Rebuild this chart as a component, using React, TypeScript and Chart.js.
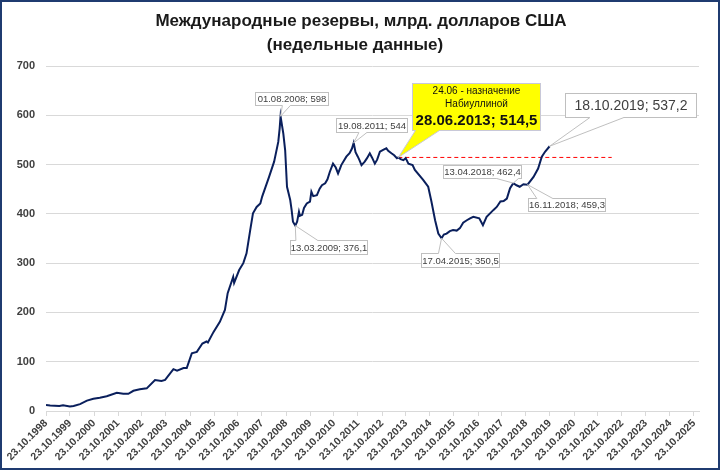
import React, { useEffect, useRef } from 'react';
import { Chart, registerables } from 'chart.js';

Chart.register(...registerables);

const titleLines = ['Международные резервы, млрд. долларов США', '(недельные данные)'];

const xTickLabels = [
  '23.10.1998', '23.10.1999', '23.10.2000', '23.10.2001', '23.10.2002', '23.10.2003', '23.10.2004',
  '23.10.2005', '23.10.2006', '23.10.2007', '23.10.2008', '23.10.2009', '23.10.2010', '23.10.2011',
  '23.10.2012', '23.10.2013', '23.10.2014', '23.10.2015', '23.10.2016', '23.10.2017', '23.10.2018',
  '23.10.2019', '23.10.2020', '23.10.2021', '23.10.2022', '23.10.2023', '23.10.2024', '23.10.2025',
];

const dates = [
  '1998-10-23', '1998-12-25', '1999-05-14', '1999-07-09', '1999-10-22', '1999-12-17', '2000-03-24',
  '2000-07-07', '2000-10-13', '2001-01-19', '2001-05-04', '2001-10-05', '2002-01-11', '2002-03-29',
  '2002-06-14', '2002-09-20', '2003-01-03', '2003-05-09', '2003-08-15', '2003-10-10', '2004-02-13',
  '2004-04-09', '2004-07-16', '2004-09-03', '2004-11-19', '2005-02-04', '2005-04-29', '2005-07-01',
  '2005-07-22', '2005-10-14', '2006-01-20', '2006-04-07', '2006-05-19', '2006-08-11', '2006-08-25',
  '2006-11-10', '2007-01-12', '2007-03-02', '2007-04-27', '2007-06-08', '2007-08-03', '2007-09-28',
  '2007-10-26', '2008-02-08', '2008-04-25', '2008-06-27', '2008-07-18', '2008-08-01', '2008-09-12',
  '2008-10-10', '2008-11-07', '2008-12-26', '2009-01-16', '2009-02-06', '2009-03-13', '2009-04-10',
  '2009-05-08', '2009-05-22', '2009-06-26', '2009-07-24', '2009-09-04', '2009-10-23', '2009-11-13',
  '2009-12-11', '2010-02-05', '2010-03-19', '2010-04-23', '2010-06-11', '2010-07-16', '2010-08-20',
  '2010-10-08', '2010-11-19', '2010-12-24', '2011-01-28', '2011-02-11', '2011-04-29', '2011-06-17',
  '2011-07-22', '2011-08-19', '2011-09-16', '2011-10-21', '2011-11-18', '2011-12-16', '2012-02-03',
  '2012-03-09', '2012-04-20', '2012-05-25', '2012-07-06', '2012-08-10', '2012-09-21', '2012-11-09',
  '2012-12-28', '2013-01-25', '2013-03-15', '2013-04-26', '2013-06-07', '2013-06-28', '2013-08-02',
  '2013-09-13', '2013-10-18', '2013-11-29', '2014-01-31', '2014-03-07', '2014-07-11', '2014-09-26',
  '2014-11-14', '2015-01-09', '2015-02-27', '2015-04-17', '2015-05-22', '2015-07-03', '2015-08-21',
  '2015-10-09', '2015-12-04', '2016-01-22', '2016-03-11', '2016-05-06', '2016-06-24', '2016-08-12',
  '2016-11-11', '2017-01-06', '2017-03-03', '2017-06-16', '2017-08-04', '2017-09-29', '2017-11-17',
  '2018-01-05', '2018-02-23', '2018-04-13', '2018-06-01', '2018-07-20', '2018-09-14', '2018-11-16',
  '2019-02-15', '2019-04-26', '2019-06-21', '2019-08-09', '2019-10-18',
];

const values = [
  12, 11, 10, 11.5, 9, 10, 14,
  21, 25, 27, 30, 37, 35, 35,
  41, 44, 46, 63, 61, 63, 85,
  82, 87, 87, 117, 120, 137, 141,
  139, 160, 181, 205, 239, 272, 260,
  286, 300, 320, 367, 401, 414, 421,
  435, 475, 506, 546, 573, 598, 563,
  529, 455, 428, 408, 384, 376.1, 384,
  404, 396, 398, 412, 421, 425, 445,
  436, 438, 451, 458, 462, 470, 485,
  502, 494, 482, 494, 499, 516, 523,
  532, 544, 525, 516, 508, 499, 506,
  513, 523, 514, 502, 510, 526, 530,
  533, 528, 523, 519, 513, 514.5, 511,
  509, 513, 502, 499, 489, 469, 455,
  425, 387, 360, 350.5, 358, 360, 365,
  367, 366, 371, 382, 387, 391, 394,
  391, 377, 394, 408, 414, 425, 426,
  431, 452, 462.4, 458, 455, 460, 459.3,
  475, 492, 516, 526, 537.2,
];

const refLineDates = ['2013-06-28', '2022-05-20'];
const refLineValues = [514.5, 514.5];

const calloutDates = ['2008-08-01', '2011-08-19', '2009-03-13', '2015-04-17', '2018-04-13', '2018-11-16', '2019-10-18', '2013-06-28'];
const calloutValues = [598, 544, 376.1, 350.5, 462.4, 459.3, 537.2, 514.5];
const calloutTexts = [
  ['01.08.2008; 598'],
  ['19.08.2011; 544'],
  ['13.03.2009; 376,1'],
  ['17.04.2015; 350,5'],
  ['13.04.2018; 462,4'],
  ['16.11.2018; 459,3'],
  ['18.10.2019; 537,2'],
  ['24.06 - назначение', 'Набиуллиной', '28.06.2013; 514,5'],
];

const FONT = '"Liberation Sans", Arial, sans-serif';
const TEXT_COLOR = '#404040';

type Layout = {
  dx: number; dy: number; w: number; h: number; edge: 'top' | 'bottom'; b1: number; b2: number;
  fill: string; stroke: string; fonts: string[]; lineDy: number[];
};

const calloutLayout: Layout[] = [
  { dx: 11.8, dy: -17.2, w: 74, h: 14, edge: 'bottom', b1: -10, b2: -2, fill: '#fff', stroke: '#bfbfbf', fonts: [`9.5px ${FONT}`], lineDy: [0] },
  { dx: 18.2, dy: -17.3, w: 72, h: 15, edge: 'bottom', b1: -13, b2: -5, fill: '#fff', stroke: '#bfbfbf', fonts: [`9.5px ${FONT}`], lineDy: [0] },
  { dx: 33.6, dy: 21.4, w: 78, h: 15, edge: 'top', b1: -33, b2: -11, fill: '#fff', stroke: '#bfbfbf', fonts: [`9.5px ${FONT}`], lineDy: [0] },
  { dx: 18.9, dy: 22.3, w: 79, h: 15, edge: 'top', b1: -22, b2: -5, fill: '#fff', stroke: '#bfbfbf', fonts: [`9.5px ${FONT}`], lineDy: [0] },
  { dx: -30.8, dy: -11.5, w: 79, h: 14, edge: 'bottom', b1: 14, b2: 36, fill: '#fff', stroke: '#bfbfbf', fonts: [`9.5px ${FONT}`], lineDy: [0] },
  { dx: 39.3, dy: 20.4, w: 78, h: 14, edge: 'top', b1: -30, b2: -14, fill: '#fff', stroke: '#bfbfbf', fonts: [`9.5px ${FONT}`], lineDy: [0] },
  { dx: 81.3, dy: -40.7, w: 132, h: 25, edge: 'bottom', b1: -41, b2: -7, fill: '#fff', stroke: '#bfbfbf', fonts: [`14px ${FONT}`], lineDy: [0] },
  { dx: 78.1, dy: -50.3, w: 129, h: 48, edge: 'bottom', b1: -61, b2: -37, fill: '#ffff00', stroke: '#c8c8d8', fonts: [`10px ${FONT}`, `10px ${FONT}`, `bold 15px ${FONT}`], lineDy: [-16.3, -3.7, 13] },
];

const BASE = Date.UTC(1998, 9, 23);
const DAY = 86400000;
function isoToT(d: string): number {
  const [Y, M, D] = d.split('-').map(Number);
  return (Date.UTC(Y, M - 1, D) - BASE) / (365.25 * DAY);
}
function ruToT(d: string): number {
  const [D, M, Y] = d.split('.').map(Number);
  return (Date.UTC(Y, M - 1, D) - BASE) / (365.25 * DAY);
}

const overlayPlugin = {
  id: 'overlay',
  afterDatasetsDraw(chart: any) {
    const ctx: CanvasRenderingContext2D = chart.ctx;
    const xs = chart.scales.x;
    const ys = chart.scales.y;
    calloutDates.forEach((d, i) => {
      const L = calloutLayout[i];
      const px = xs.getPixelForValue(isoToT(d));
      const py = ys.getPixelForValue(calloutValues[i]);
      const cx = px + L.dx;
      const cy = py + L.dy;
      const left = Math.round(cx - L.w / 2);
      const top = Math.round(cy - L.h / 2);
      ctx.save();
      ctx.fillStyle = L.fill;
      ctx.strokeStyle = L.stroke;
      ctx.lineWidth = 1;
      ctx.fillRect(left, top, L.w, L.h);
      ctx.strokeRect(left + 0.5, top + 0.5, L.w - 1, L.h - 1);
      const edgeY = L.edge === 'bottom' ? top + L.h - 0.5 : top + 0.5;
      const inner = L.edge === 'bottom' ? -1.5 : 1.5;
      const b1 = cx + L.b1;
      const b2 = cx + L.b2;
      ctx.beginPath();
      ctx.moveTo(b1, edgeY + inner);
      ctx.lineTo(b1, edgeY);
      ctx.lineTo(px, py);
      ctx.lineTo(b2, edgeY);
      ctx.lineTo(b2, edgeY + inner);
      ctx.closePath();
      ctx.fill();
      ctx.beginPath();
      ctx.moveTo(b1, edgeY);
      ctx.lineTo(px, py);
      ctx.lineTo(b2, edgeY);
      ctx.stroke();
      ctx.fillStyle = L.fill === '#ffff00' ? '#111' : TEXT_COLOR;
      ctx.textAlign = 'center';
      ctx.textBaseline = 'middle';
      calloutTexts[i].forEach((t, k) => {
        ctx.font = L.fonts[k];
        ctx.fillText(t, left + L.w / 2, top + L.h / 2 + L.lineDy[k] + 0.5);
      });
      ctx.restore();
    });
  },
  afterDraw(chart: any) {
    const ctx: CanvasRenderingContext2D = chart.ctx;
    ctx.save();
    ctx.fillStyle = '#1a1a1a';
    ctx.textAlign = 'center';
    ctx.textBaseline = 'middle';
    ctx.font = `bold 17px ${FONT}`;
    ctx.fillText(titleLines[0], 361, 21);
    ctx.fillText(titleLines[1], 355, 45);
    ctx.restore();
  },
};

export default function App() {
  const ref = useRef<HTMLCanvasElement | null>(null);
  useEffect(() => {
    document.body.style.margin = '0';
    const canvas = ref.current;
    if (!canvas) return;
    const tickValues = xTickLabels.map(ruToT);
    const chart = new Chart(canvas, {
      type: 'line',
      data: {
        datasets: [
          {
            data: dates.map((d, i) => ({ x: isoToT(d), y: values[i] })),
            borderColor: '#0a1f5c',
            borderWidth: 2,
            pointRadius: 0,
            tension: 0,
            fill: false,
          },
          {
            data: refLineDates.map((d, i) => ({ x: isoToT(d), y: refLineValues[i] })),
            borderColor: '#ff0000',
            borderWidth: 1,
            borderDash: [4, 3],
            pointRadius: 0,
            fill: false,
          },
        ],
      },
      options: {
        animation: false,
        responsive: false,
        devicePixelRatio: 1,
        layout: { padding: { top: 66, right: 21, left: 0, bottom: 0 } },
        plugins: { legend: { display: false }, tooltip: { enabled: false }, title: { display: false } },
        scales: {
          x: {
            type: 'linear',
            min: 0,
            max: 27.21,
            afterBuildTicks: (scale: any) => {
              scale.ticks = tickValues.map((v) => ({ value: v }));
            },
            afterFit: (scale: any) => {
              scale.height = 59;
            },
            ticks: {
              autoSkip: false,
              maxRotation: 45,
              minRotation: 45,
              padding: 1,
              color: TEXT_COLOR,
              font: { family: FONT, size: 10.5, weight: 'bold' },
              callback: (_v: any, idx: number) => xTickLabels[idx],
            },
            grid: { drawOnChartArea: false, drawTicks: true, tickLength: 5, color: '#d9d9d9' },
            border: { color: '#d9d9d9' },
          },
          y: {
            min: 0,
            max: 700,
            afterFit: (scale: any) => {
              scale.width = 46;
            },
            ticks: {
              stepSize: 100,
              padding: 11,
              color: TEXT_COLOR,
              font: { family: FONT, size: 11, weight: 'bold' },
            },
            grid: { color: '#d9d9d9', drawTicks: false },
            border: { display: false },
          },
        },
      },
      plugins: [overlayPlugin],
    } as any);
    return () => chart.destroy();
  }, []);
  return (
    <div style={{ position: 'relative', width: 720, height: 470, background: '#fff' }}>
      <canvas ref={ref} width={720} height={470} style={{ display: 'block' }} />
      <div
        style={{
          position: 'absolute',
          left: 0,
          top: 0,
          width: 720,
          height: 470,
          boxSizing: 'border-box',
          border: '2px solid #1f3b70',
          pointerEvents: 'none',
        }}
      />
    </div>
  );
}
